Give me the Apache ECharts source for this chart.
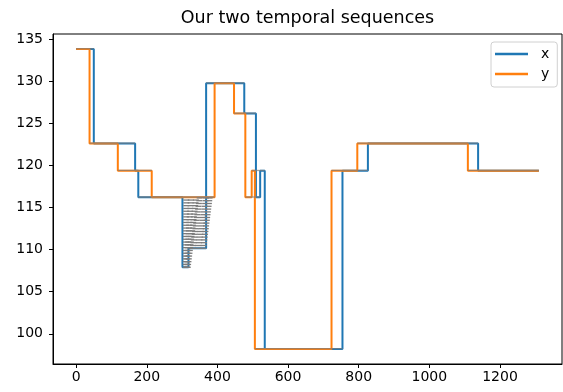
<!DOCTYPE html>
<html>
<head>
<meta charset="utf-8">
<script src="https://cdn.jsdelivr.net/npm/echarts@6/dist/echarts.min.js"></script>
<style>
  html, body { margin: 0; padding: 0; background: #fff; }
  #chart { width: 563px; height: 392px; }
</style>
</head>
<body>
<div id="chart"></div>
<script>
// ---- data ----
const titleText = 'Our two temporal sequences';
const seriesNames = ['x', 'y'];

// x sequence: index where each level starts, and the level
const xBreaks = [0, 50, 167, 176, 301, 318, 368, 476, 509, 521, 534, 754, 826, 1138, 1310];
const xLevels = [133.8, 122.6, 119.35, 116.2, 107.9, 110.15, 129.75, 126.15, 116.2, 119.35, 98.2, 119.35, 122.6, 119.35, 119.35];

// y sequence
const yBreaks = [0, 38, 118, 214, 392, 447, 479, 497, 506, 723, 796, 1109, 1310];
const yLevels = [133.8, 122.6, 119.35, 116.2, 129.75, 126.15, 116.2, 119.35, 98.2, 119.35, 122.6, 119.35, 119.35];

// visible (slanted) warping links: index in x -> index in y
const linkFrom = [310, 313, 316, 330, 345, 360];
const linkTo   = [312, 325, 340, 350, 368, 378];

const xTicks = [0, 200, 400, 600, 800, 1000, 1200];
const yTicks = [100, 105, 110, 115, 120, 125, 130, 135];

(function () {
  function levelAt(breaks, levels, idx) {
    let v = levels[0];
    for (let k = 0; k < breaks.length; k++) { if (breaks[k] <= idx) v = levels[k]; }
    return v;
  }
  function runs(breaks, levels) {
    const r = [];
    for (let k = 0; k < breaks.length - 1; k++) r.push({ s: breaks[k], e: breaks[k + 1], v: levels[k] });
    return r;
  }
  const xData = xBreaks.map((b, k) => [b, xLevels[k]]);
  const yData = yBreaks.map((b, k) => [b, yLevels[k]]);
  const linkData = linkFrom.map((i, k) => [i, levelAt(xBreaks, xLevels, i), linkTo[k], levelAt(yBreaks, yLevels, linkTo[k])]);

  // horizontal alignment overlay: each y run matched with the nearest x run of the same level
  const xr = runs(xBreaks, xLevels), yr = runs(yBreaks, yLevels);
  const flatData = [];
  yr.forEach(function (b) {
    let best = null, bestGap = Infinity;
    xr.forEach(function (a) {
      if (Math.abs(a.v - b.v) > 1e-6) return;
      const gap = Math.max(0, Math.max(a.s, b.s) - Math.min(a.e, b.e));
      if (gap < bestGap) { bestGap = gap; best = a; }
    });
    if (best) flatData.push([Math.min(best.s, b.s), b.v, Math.max(best.e, b.e), b.v]);
  });

  const allX = xBreaks.concat(yBreaks);
  const allY = xLevels.concat(yLevels);
  const xMinD = Math.min(...allX), xMaxD = Math.max(...allX);
  const yMinD = Math.min(...allY), yMaxD = Math.max(...allY);
  const xm = (xMaxD - xMinD) * 0.05, ym = (yMaxD - yMinD) * 0.05;

  const FONT = 'DejaVu Sans';
  const chart = echarts.init(document.getElementById('chart'), null, { renderer: 'canvas' });

  const gLeft = 53, gRight = 1, gTop = 34, gBottom = 28;
  const plotCenter = gLeft + (563 - gLeft - gRight) / 2;

  chart.setOption({
    animation: false,
    backgroundColor: '#fff',
    graphic: [{
      type: 'text', x: plotCenter, y: 18,
      style: { text: titleText, align: 'center', verticalAlign: 'middle',
               fontFamily: FONT, fontSize: 17.5, fill: '#000' }
    }],
    grid: { left: gLeft, right: gRight, top: gTop, bottom: gBottom, show: true,
            borderColor: '#000', borderWidth: 1, backgroundColor: 'transparent' },
    legend: {
      orient: 'vertical', left: 491, top: 42,
      padding: [5, 8, 6, 4], itemGap: 6,
      backgroundColor: '#fff', borderColor: '#d0d0d0', borderWidth: 1, borderRadius: 3,
      itemWidth: 33, itemHeight: 2.5, icon: 'rect',
      textStyle: { fontFamily: FONT, fontSize: 14, color: '#000', padding: [0, 0, 0, 8] },
      data: seriesNames
    },
    xAxis: {
      type: 'value', min: xMinD - xm, max: xMaxD + xm,
      axisLine: { show: true, onZero: false, lineStyle: { color: '#000', width: 1 } },
      axisTick: { show: true, length: 4, lineStyle: { color: '#000' }, customValues: xTicks },
      axisLabel: { fontFamily: FONT, fontSize: 14, color: '#000', margin: 6, customValues: xTicks,
                   formatter: function (v) { return String(v); } },
      splitLine: { show: false }
    },
    yAxis: {
      type: 'value', min: yMinD - ym, max: yMaxD + ym,
      axisLine: { show: true, onZero: false, lineStyle: { color: '#000', width: 1 } },
      axisTick: { show: true, length: 4, lineStyle: { color: '#000' }, customValues: yTicks },
      axisLabel: { fontFamily: FONT, fontSize: 14, color: '#000', margin: 10, customValues: yTicks,
                   formatter: function (v) { return String(v); } },
      splitLine: { show: false }
    },
    series: [
      {
        name: seriesNames[0], type: 'line', step: 'end', data: xData,
        showSymbol: false, symbol: 'none', color: '#1f77b4',
        lineStyle: { width: 2, color: '#1f77b4' }, z: 2
      },
      {
        name: seriesNames[1], type: 'line', step: 'end', data: yData,
        showSymbol: false, symbol: 'none', color: '#ff7f0e',
        lineStyle: { width: 2, color: '#ff7f0e' }, z: 3
      },
      {
        name: 'flatLinks', type: 'custom', data: flatData, z: 4, silent: true,
        encode: { x: [0, 2], y: [1, 3] },
        renderItem: function (params, api) {
          const p1 = api.coord([api.value(0), api.value(1)]);
          const p2 = api.coord([api.value(2), api.value(3)]);
          return {
            type: 'line',
            shape: { x1: p1[0], y1: p1[1] - 0.3, x2: p2[0], y2: p2[1] - 0.3 },
            style: { stroke: 'rgba(125,125,125,0.7)', lineWidth: 1.3, fill: null }
          };
        }
      },
      {
        name: 'links', type: 'custom', data: linkData, z: 5, silent: true,
        encode: { x: [0, 2], y: [1, 3] },
        renderItem: function (params, api) {
          const p1 = api.coord([api.value(0), api.value(1)]);
          const p2 = api.coord([api.value(2), api.value(3)]);
          const period = 2.8, th = 1.3, hw = 3;
          const dy = p1[1] - p2[1];
          const n = Math.floor(dy / period);
          const children = [];
          for (let s = 0; s <= n; s++) {
            const yy = p1[1] - s * period;
            const t = dy > 0 ? (p1[1] - yy) / dy : 0;
            const xx = p1[0] + t * (p2[0] - p1[0]);
            children.push({
              type: 'rect',
              shape: { x: xx - hw, y: yy - th / 2, width: 2 * hw, height: th },
              style: { fill: '#7c7c7c' }
            });
          }
          return { type: 'group', children: children };
        }
      }
    ]
  });
})();
</script>
</body>
</html>
